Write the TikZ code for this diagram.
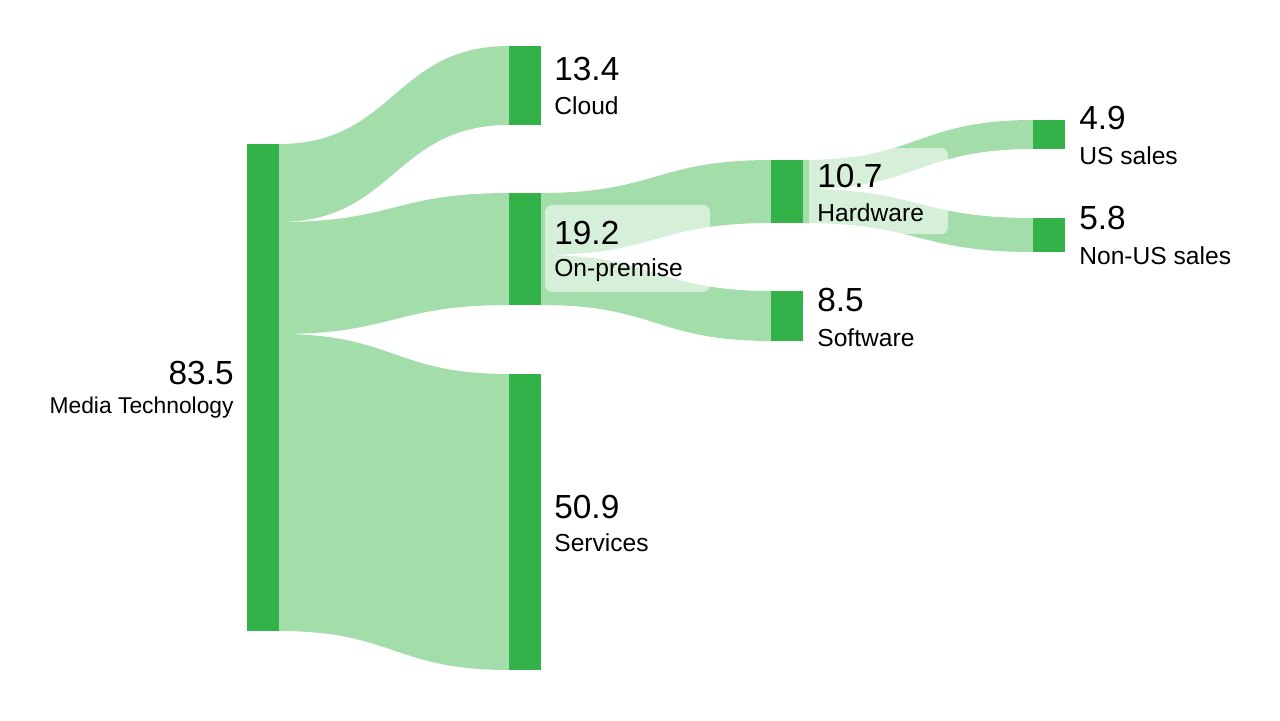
\documentclass[tikz,border=0pt]{standalone}
\usepackage{fontspec}
\setmainfont{Liberation Sans}
\definecolor{barg}{HTML}{33B249}
\definecolor{flowg}{HTML}{A3DDAA}
% band between two bars: x1, top1, bottom1, x2, top2, bottom2
\newcommand{\flowband}[6]{%
  \fill[flowg](#1,#2)..controls({(#1+#4)/2},#2)and({(#1+#4)/2},#5)..(#4,#5)
     --(#4,#6)..controls({(#1+#4)/2},#6)and({(#1+#4)/2},#3)..(#1,#3)--cycle;}
\begin{document}
\begin{tikzpicture}[x=0.02cm,y=-0.02cm,
  bar/.style={fill=barg,inner sep=0pt,minimum width=0.64cm},
  num/.style={font=\fontsize{19}{22}\selectfont,inner sep=0pt},
  lab/.style={font=\fontsize{14}{16}\selectfont,inner sep=0pt},
  glass/.style={fill=white,fill opacity=0.55,rounded corners=4pt}]
  \useasboundingbox(0,0)rectangle(1280,720);
  % flows
  \flowband{279}{144}{222}{509}{46}{125}
  \flowband{279}{222}{334}{509}{193}{305}
  \flowband{279}{334}{631}{509}{374}{670}
  \flowband{541}{193}{255}{771}{160}{223}
  \flowband{541}{255}{305}{771}{291}{341}
  \flowband{803}{160}{189}{1033}{120}{149}
  \flowband{803}{189}{223}{1033}{218}{252}
  % bars
  \node[bar,minimum height=9.74cm](media)at(263,387.5){};
  \node[bar,minimum height=1.58cm](cloud)at(525,85.5){};
  \node[bar,minimum height=2.24cm](onprem)at(525,249){};
  \node[bar,minimum height=5.92cm](serv)at(525,522){};
  \node[bar,minimum height=1.26cm](hard)at(787,191.5){};
  \node[bar,minimum height=1.0cm](soft)at(787,316){};
  \node[bar,minimum height=0.58cm](us)at(1049,134.5){};
  \node[bar,minimum height=0.68cm](nonus)at(1049,235){};
  % label boxes
  \fill[glass](545,205)rectangle(710,292);
  \fill[glass](809,148)rectangle(948,234);
  % labels
  \node[num,anchor=east](mediaN)at(234,373){83.5};
  \node[lab,anchor=east,font=\fontsize{13}{15}\selectfont](mediaL)at(234,408){Media Technology};
  \node[num,anchor=west](cloudN)at(554,69){13.4};
  \node[lab,anchor=west](cloudL)at(554,106){Cloud};
  \node[num,anchor=west](onpremN)at(554,233){19.2};
  \node[lab,anchor=west](onpremL)at(554,270){On-premise};
  \node[num,anchor=west](servN)at(554,507){50.9};
  \node[lab,anchor=west](servL)at(554,543){Services};
  \node[num,anchor=west](hardN)at(817,176){10.7};
  \node[lab,anchor=west](hardL)at(817,213){Hardware};
  \node[num,anchor=west](softN)at(817,300){8.5};
  \node[lab,anchor=west](softL)at(817,338){Software};
  \node[num,anchor=west](usN)at(1079,118){4.9};
  \node[lab,anchor=west](usL)at(1079,156){US sales};
  \node[num,anchor=west](nonusN)at(1079,218){5.8};
  \node[lab,anchor=west](nonusL)at(1079,256){Non-US sales};
\end{tikzpicture}
\end{document}
